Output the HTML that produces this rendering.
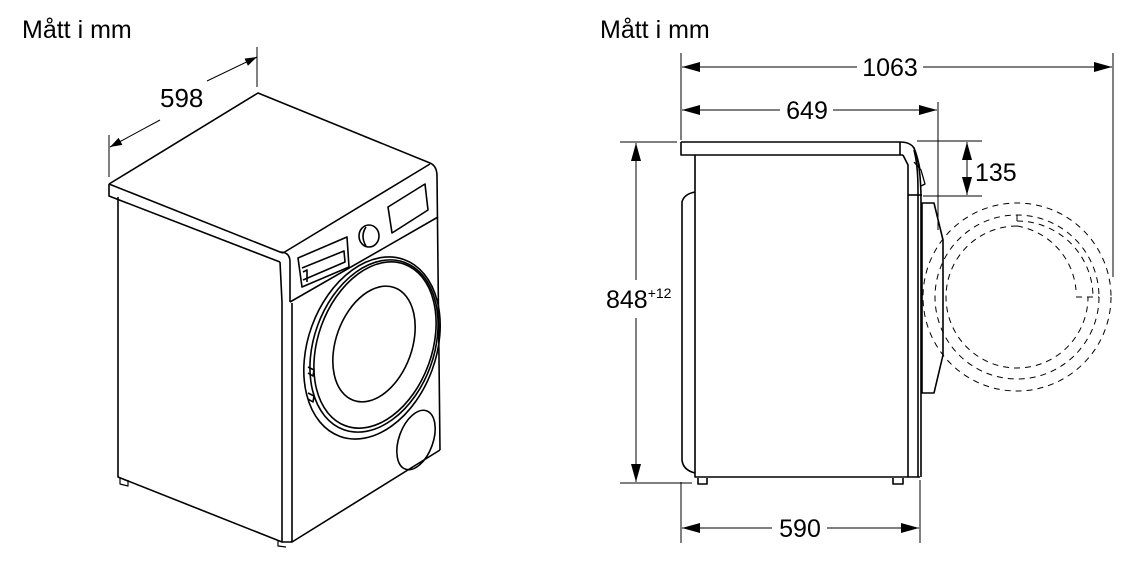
<!DOCTYPE html>
<html><head><meta charset="utf-8"><style>
html,body{margin:0;padding:0;background:#fff;}
svg{display:block;}
text{font-family:"Liberation Sans",Arial,sans-serif;fill:#000;}
</style></head><body>
<svg width="1145" height="582" viewBox="0 0 1145 582" xmlns="http://www.w3.org/2000/svg">
<defs>
<marker id="a" viewBox="0 0 12 8" refX="12" refY="4" markerWidth="12" markerHeight="8" orient="auto" markerUnits="userSpaceOnUse"><path d="M0,0 L12,4 L0,8 Z" fill="#000"/></marker>
<marker id="b" viewBox="0 0 18 10" refX="18" refY="5" markerWidth="18" markerHeight="10" orient="auto" markerUnits="userSpaceOnUse"><path d="M0,0 L18,5 L0,10 Z" fill="#000"/></marker>
</defs>
<text x="22" y="38" font-size="25">Mått i mm</text>
<text x="600" y="38" font-size="25">Mått i mm</text>

<!-- LEFT isometric -->
<g fill="none" stroke="#000" stroke-width="1.6" stroke-linejoin="round">
<line x1="109" y1="135" x2="109" y2="177" stroke-width="1"/>
<line x1="257" y1="47" x2="257" y2="87" stroke-width="1"/>
<line x1="160" y1="120" x2="110" y2="147" stroke-width="1" marker-end="url(#a)"/>
<line x1="207" y1="81" x2="257" y2="57" stroke-width="1" marker-end="url(#a)"/>
<path d="M109,184 L258,93 L430,163 Q437,166 437,176"/>
<path d="M109,184 L109,196 L280,262"/>
<path d="M109,184 L280,252 L283,253"/>
<path d="M280,252 Q290,252 290,262 L290,302"/>
<path d="M280,262 L282,302"/>
<path d="M283,253 L430,164"/>
<path d="M290,302 L438,217"/>
<path d="M437,176 L440,450"/>
<path d="M292,303 L292,542 L440,450"/>
<path d="M282,302 L282,542"/>
<path d="M118,197 L118,477 L282,542 L292,542"/>
<path d="M120,478 L120,484 L128,486 L128,480" stroke-width="1.2"/>
<path d="M278,540 L278,546 L286,547" stroke-width="1.2"/>
<path d="M388,207 L425,184 L428,210 L392,233 Z"/>
<ellipse cx="369" cy="236" rx="10" ry="11"/>
<path d="M366,227 Q360,236 366,246"/>
<path d="M298,258 L347,237 L349,267 L302,287 Z"/>
<path d="M302,268 L344,251 L345,262 L303,280"/>
<path d="M303,272 L307,270 L307,282"/>
<ellipse cx="372" cy="348" rx="64" ry="94" transform="rotate(20 372 348)"/>
<ellipse cx="374" cy="346" rx="60" ry="89" transform="rotate(20 374 346)"/>
<ellipse cx="375" cy="345" rx="57" ry="86" transform="rotate(20 375 345)"/>
<ellipse cx="374" cy="344" rx="38" ry="60" transform="rotate(20 374 344)"/>
<path d="M308,367 L314,370 L313,376 L308,373"/>
<path d="M308,393 L314,396 L313,402 L308,399"/>
<ellipse cx="416" cy="440" rx="17" ry="31" transform="rotate(20 416 440)"/>
</g>
<text x="160" y="107" font-size="26">598</text>

<!-- RIGHT side view -->
<g fill="none" stroke="#000" stroke-width="1">
<line x1="681" y1="53" x2="681" y2="140"/>
<line x1="681" y1="482" x2="681" y2="543"/>
<line x1="1113" y1="53" x2="1113" y2="277"/>
<line x1="938" y1="102" x2="938" y2="230"/>
<line x1="920" y1="480" x2="920" y2="543"/>
<line x1="620" y1="142" x2="677" y2="142"/>
<line x1="620" y1="483" x2="692" y2="483"/>
<line x1="917" y1="141" x2="982" y2="141"/>
<line x1="923" y1="196" x2="982" y2="196"/>
<line x1="857" y1="67" x2="682" y2="67" marker-end="url(#b)"/>
<line x1="923" y1="67" x2="1112" y2="67" marker-end="url(#b)"/>
<line x1="780" y1="110" x2="682" y2="110" marker-end="url(#b)"/>
<line x1="833" y1="110" x2="937" y2="110" marker-end="url(#b)"/>
<line x1="772" y1="528" x2="682" y2="528" marker-end="url(#b)"/>
<line x1="827" y1="528" x2="919" y2="528" marker-end="url(#b)"/>
<line x1="636" y1="280" x2="636" y2="143" marker-end="url(#b)"/>
<line x1="636" y1="318" x2="636" y2="482" marker-end="url(#b)"/>
<line x1="967" y1="170" x2="967" y2="142" marker-end="url(#b)"/>
<line x1="967" y1="170" x2="967" y2="195" marker-end="url(#b)"/>
</g>
<text x="890" y="76" font-size="25" text-anchor="middle">1063</text>
<text x="807" y="119" font-size="25" text-anchor="middle">649</text>
<text x="800" y="537" font-size="25" text-anchor="middle">590</text>
<text x="975" y="181" font-size="25">135</text>
<text x="606" y="308" font-size="25">848<tspan font-size="14" dy="-10">+12</tspan></text>

<g fill="none" stroke="#000" stroke-width="1.6" stroke-linejoin="round">
<path d="M681,142 L900,142 Q910,142 914,148 Q918,158 920,170"/>
<path d="M681,142 L681,155 L903,155"/>
<path d="M900,142 L900,155"/>
<path d="M695,155 L695,477 L920,477"/>
<path d="M903,155 L908,165 L908,477"/>
<path d="M914,148 Q921,165 921,200 L921,477"/>
<path d="M914,150 Q918,165 918,190 L918,477"/>
<path d="M914,162 L921,170 L925,184 L921,186" stroke-width="1.3"/>
<path d="M908,195 L922,195"/>
<path d="M695,192 Q684,194 682,202 L682,460 Q683,470 695,473"/>
<path d="M698,478 L698,484 L707,484 L707,478"/>
<path d="M893,478 L893,484 L903,484 L903,478"/>
<path d="M922,203 L934,203 L943,240 L943,355 L934,393 L922,393 Z"/>
</g>
<g fill="none" stroke="#000" stroke-width="1" stroke-dasharray="6,5">
<circle cx="1017" cy="297" r="94"/>
<circle cx="1017" cy="297" r="82"/>
<path d="M1017,226 A71,71 0 1 0 1088,297"/>
<path d="M1017,221 A76,76 0 0 1 1093,297"/>
<path d="M1017,215 L1017,226"/>
<path d="M1076,297 L1099,297"/>
<path d="M1017,226 A71,71 0 0 1 1076,290"/>
</g>
</svg>
</body></html>
